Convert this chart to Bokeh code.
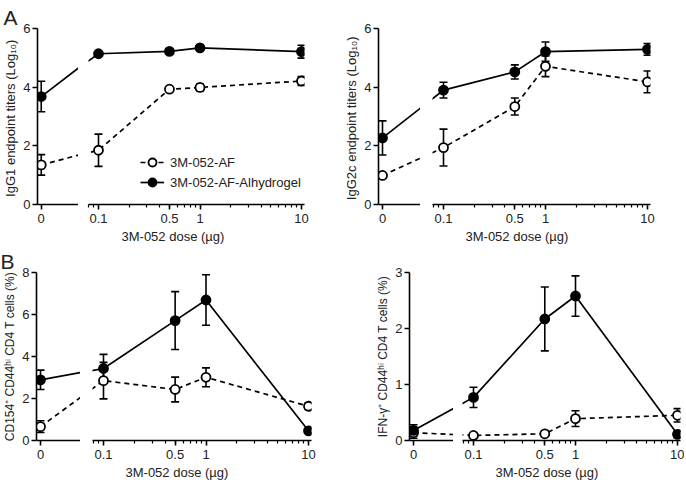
from bokeh.plotting import figure
from bokeh.models import (Range1d, FixedTicker, NumeralTickFormatter, Whisker, TeeHead,
                          ColumnDataSource, Title, Legend, LegendItem)
from bokeh.layouts import row, column
from bokeh.embed import file_html
from bokeh.resources import INLINE

# ---------------- data ----------------
doses = [0, 0.1, 0.5, 1, 10]
tick_doses = [0.1, 0.5, 1, 10]
series_names = ["3M-052-AF", "3M-052-AF-Alhydrogel"]
x_title = "3M-052 dose (µg)"

igg1_af = [1.35, 1.85, 3.93, 3.99, 4.21]
igg1_af_err = [0.35, 0.55, 0.05, 0.12, 0.15]
igg1_alum = [3.68, 5.14, 5.22, 5.34, 5.21]
igg1_alum_err = [0.52, 0.05, 0.05, 0.08, 0.22]

igg2c_af = [0.99, 1.94, 3.34, 4.71, 4.18]
igg2c_af_err = [0.05, 0.63, 0.29, 0.35, 0.37]
igg2c_alum = [2.27, 3.90, 4.52, 5.21, 5.29]
igg2c_alum_err = [0.58, 0.27, 0.24, 0.33, 0.20]

cd154_af = [0.66, 2.85, 2.43, 3.01, 1.63]
cd154_af_err = [0.28, 0.87, 0.59, 0.45, 0.15]
cd154_alum = [2.89, 3.43, 5.71, 6.69, 0.46]
cd154_alum_err = [0.46, 0.67, 1.38, 1.20, 0.10]

ifng_af = [0.14, 0.09, 0.12, 0.39, 0.45]
ifng_af_err = [0.10, 0.02, 0.02, 0.14, 0.12]
ifng_alum = [0.18, 0.77, 2.17, 2.58, 0.11]
ifng_alum_err = [0.10, 0.18, 0.57, 0.36, 0.06]

FONT = "Liberation Sans"
TXT = "#222222"


def style_axis(ax, size="13px"):
    ax.axis_line_width = 1.6
    ax.axis_line_color = "black"
    ax.major_tick_line_width = 1.6
    ax.major_tick_line_color = "black"
    ax.major_tick_in = 0
    ax.major_tick_out = 5
    ax.minor_tick_in = 0
    ax.minor_tick_out = 3
    ax.minor_tick_line_width = 1.2
    ax.minor_tick_line_color = "black"
    ax.major_label_text_font = FONT
    ax.major_label_text_font_size = size
    ax.major_label_text_color = TXT
    ax.major_label_standoff = 4
    ax.axis_label_text_font = FONT
    ax.axis_label_text_font_style = "normal"
    ax.axis_label_text_color = TXT
    ax.axis_label_standoff = 2


def base(p):
    p.background_fill_color = "white"
    p.border_fill_color = "white"
    p.outline_line_color = None
    p.xgrid.visible = False
    p.ygrid.visible = False


def panel(letter, ylabel, ylabel_size, ymax, yticks, af, af_err, alum, alum_err, geo, H,
          top, bottom, legend=False):
    x0, border, lead, seg_end, r_start, p01, p10, r_end, x1 = geo
    yax = x0 + border + lead
    decade = (p10 - p01) / 2.0
    yr = Range1d(0, ymax)

    # ----- left part: dose 0 -----
    L = figure(width=seg_end - x0, height=H, title=None,
               x_range=Range1d(-lead, seg_end - yax), y_range=yr,
               output_backend="svg", toolbar_location=None,
               min_border_left=border, min_border_right=0,
               min_border_top=top, min_border_bottom=bottom)
    base(L)
    style_axis(L.xaxis[0])
    style_axis(L.yaxis[0])
    L.yaxis[0].major_label_standoff = 2
    L.yaxis[0].ticker = FixedTicker(ticks=yticks, minor_ticks=[])
    L.yaxis[0].axis_label = ylabel
    L.yaxis[0].axis_label_text_font_size = ylabel_size
    L.xaxis[0].ticker = FixedTicker(ticks=[doses[0]], minor_ticks=[])
    L.add_layout(Title(text=letter, text_font=FONT, text_font_size="21px",
                       text_font_style="normal", text_color=TXT, align="left",
                       offset=-border, standoff=0), "above")
    L.add_layout(Title(text=" ", text_font=FONT, text_font_size="13px",
                       text_font_style="normal", standoff=3), "below")

    # ----- right part: log doses -----
    r0 = 0.1 * 10 ** (-(p01 - r_start) / decade)
    r1 = 10 * 10 ** ((r_end - p10) / decade)
    R = figure(width=x1 - seg_end, height=H, title=None, x_axis_type="log",
               x_range=Range1d(r0, r1), y_range=yr, y_axis_location=None,
               output_backend="svg", toolbar_location=None,
               min_border_left=r_start - seg_end, min_border_right=x1 - r_end,
               min_border_top=top, min_border_bottom=bottom)
    base(R)
    style_axis(R.xaxis[0])
    minor = [k * 10.0 ** e for e in (-2, -1, 0) for k in range(2, 10)]
    minor = [m for m in minor if r0 <= m <= r1]
    R.xaxis[0].ticker = FixedTicker(ticks=tick_doses, minor_ticks=minor)
    R.xaxis[0].formatter = NumeralTickFormatter(format="0.[0]")
    R.add_layout(Title(text=" ", text_font=FONT, text_font_size="21px",
                       text_font_style="normal", standoff=0), "above")
    R.add_layout(Title(text=x_title, text_font=FONT, text_font_size="13px",
                       text_font_style="normal", text_color=TXT, align="left",
                       offset=33, standoff=3), "below")

    # positions of the dose-0 point seen from the right part, and of 0.1 from the left
    x01_in_L = p01 - yax
    x0_in_R = 0.1 * 10 ** (-(p01 - yax) / decade)

    items = []
    for vals, errs, dashed, filled, name in ((af, af_err, True, False, series_names[0]),
                                            (alum, alum_err, False, True, series_names[1])):
        lkw = dict(line_color="black", line_width=1.7,
                   line_dash="5 4" if dashed else "solid")
        L.line([0, x01_in_L], vals[0:2], **lkw)
        rline = R.line([x0_in_R] + doses[1:], vals, **lkw)
        srcL = ColumnDataSource(dict(x=[doses[0]], y=vals[:1],
                                     lo=[vals[0] - errs[0]], hi=[vals[0] + errs[0]]))
        srcR = ColumnDataSource(dict(x=doses[1:], y=vals[1:],
                                     lo=[v - e for v, e in zip(vals[1:], errs[1:])],
                                     hi=[v + e for v, e in zip(vals[1:], errs[1:])]))
        for fig, src in ((L, srcL), (R, srcR)):
            w = Whisker(source=src, base="x", upper="hi", lower="lo", dimension="height",
                        line_color="black", line_width=1.6,
                        upper_head=TeeHead(size=8, line_width=1.6, line_color="black"),
                        lower_head=TeeHead(size=8, line_width=1.6, line_color="black"))
            fig.add_layout(w)
        mkw = dict(size=9, line_color="black", line_width=1.8,
                   fill_color="black" if filled else "white")
        L.scatter("x", "y", source=srcL, **mkw)
        rsc = R.scatter("x", "y", source=srcR, **mkw)
        items.append(LegendItem(label=name, renderers=[rline, rsc]))

    if legend:
        lg = Legend(items=items, location=(52, 12), border_line_color=None,
                    background_fill_alpha=0, padding=0, margin=0, spacing=0,
                    glyph_width=24, glyph_height=20, label_height=20,
                    label_standoff=6, label_text_font=FONT,
                    label_text_font_size="13px", label_text_color=TXT)
        R.add_layout(lg)
    return [L, R]


H1, H2 = 247, 236
geoA1 = (0, 34, 4, 78, 88, 98, 301, 304, 340)
geoA2 = (340, 38, 4, 420, 432, 443, 647, 650, 684)
geoB1 = (0, 36, 4, 80, 92, 103, 308, 311, 370)
geoB2 = (370, 39, 4, 453, 462, 473, 677, 680, 684)

pA1 = panel("A", "IgG1 endpoint titers  (Log₁₀)", "13px", 6, [0, 2, 4, 6],
            igg1_af, igg1_af_err, igg1_alum, igg1_alum_err, geoA1, H1, 28, 43, legend=True)
pA2 = panel(" ", "IgG2c endpoint titers  (Log₁₀)", "13px", 6, [0, 2, 4, 6],
            igg2c_af, igg2c_af_err, igg2c_alum, igg2c_alum_err, geoA2, H1, 28, 43)
pB1 = panel("B", "CD154⁺ CD44ʰⁱ CD4 T cells (%)", "12px", 8, [0, 2, 4, 6, 8],
            cd154_af, cd154_af_err, cd154_alum, cd154_alum_err, geoB1, H2, 22, 43)
pB2 = panel(" ", "IFN-γ⁺ CD44ʰⁱ CD4 T cells (%)", "12px", 3, [0, 1, 2, 3],
            ifng_af, ifng_af_err, ifng_alum, ifng_alum_err, geoB2, H2, 22, 43)

layout = column(row(*(pA1 + pA2)), row(*(pB1 + pB2)))
open("out.html", "w").write(file_html(layout, INLINE))
